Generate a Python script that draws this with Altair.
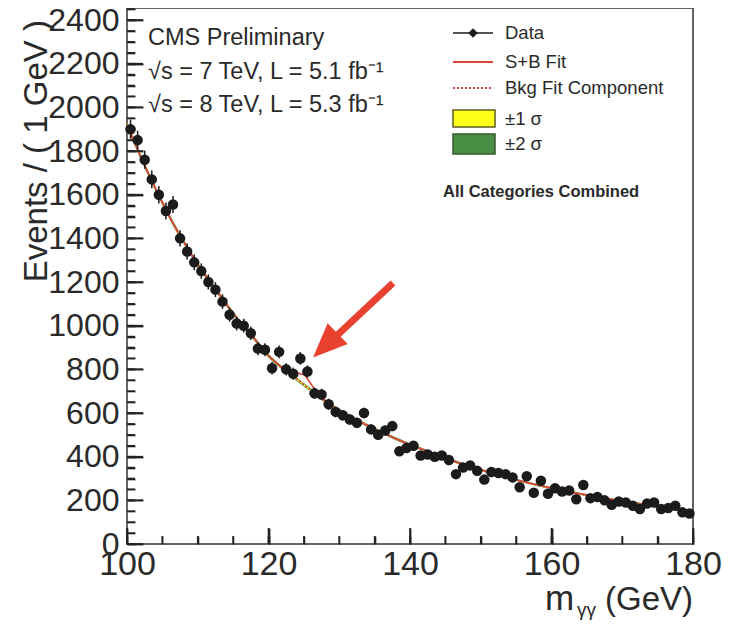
import altair as alt
import pandas as pd

# ---------------- data ----------------
mass = [100.5 + i for i in range(80)]
events = [1900, 1850, 1760, 1670, 1600, 1525, 1555, 1400, 1340, 1290,
          1250, 1200, 1165, 1110, 1050, 1010, 1000, 965, 895, 890,
          805, 880, 800, 780, 850, 790, 690, 685, 640, 605,
          590, 570, 555, 600, 525, 500, 520, 540, 425, 440,
          450, 405, 410, 400, 405, 385, 320, 350, 360, 335,
          295, 330, 325, 320, 305, 260, 310, 235, 290, 230,
          255, 240, 245, 205, 270, 210, 215, 200, 180, 195,
          190, 175, 160, 185, 190, 160, 165, 175, 145, 140]

fit_mass = list(range(100, 181, 2))
bkg_fit = [1920, 1770, 1630, 1500, 1385, 1280, 1190, 1100, 1015, 940,
           862, 805, 755, 705, 655, 612, 576, 543, 512, 482,
           455, 430, 405, 382, 360, 340, 320, 302, 286, 270,
           256, 243, 230, 218, 207, 196, 186, 176, 167, 158,
           150]
band1 = [7, 7, 6, 6, 6, 5, 5, 5, 5, 5,
         4, 4, 4, 4, 4, 4, 4, 4, 3, 3,
         3, 3, 3, 3, 3, 3, 3, 3, 3, 3,
         3, 3, 3, 3, 3, 3, 3, 3, 3, 3,
         3]
band2 = [14, 13, 12, 12, 11, 11, 10, 10, 9, 9,
         9, 8, 8, 8, 8, 7, 7, 7, 7, 7,
         6, 6, 6, 6, 6, 6, 6, 5, 5, 5,
         5, 5, 5, 5, 5, 5, 5, 5, 5, 5,
         5]

sb_mass = [100, 102, 104, 106, 108, 110, 112, 114, 116, 118,
           120, 121, 122, 123, 124, 125, 126, 127, 128, 129, 130,
           132, 134, 136, 138, 140, 142, 144, 146, 148, 150, 152, 154, 156,
           158, 160, 162, 164, 166, 168, 170, 172, 174, 176, 178, 180]
sb_fit = [1920, 1770, 1630, 1500, 1385, 1280, 1190, 1100, 1015, 940,
          862, 833, 806, 788, 783, 775, 733, 688, 656, 633, 612,
          576, 543, 512, 482, 455, 430, 405, 382, 360, 340, 320, 302, 286,
          270, 256, 243, 230, 218, 207, 196, 186, 176, 167, 158, 150]

x_major = [100, 120, 140, 160, 180]
x_minor = list(range(100, 181, 5))
y_major = list(range(0, 2401, 200))
y_minor = list(range(0, 2451, 50))

# ---------------- layout ----------------
W, H = 566, 536
XMIN, XMAX = 100, 180
YMIN, YMAX = 0, 2455
FONT = "Liberation Sans"
TXT = "#2a2a2a"
RED = "#d9453b"
YEL = "#ffff1a"
GRN = "#4b8e45"
TICK = "#222222"

data_df = pd.DataFrame({"m": mass, "n": events})
bkg_df = pd.DataFrame({"m": fit_mass, "b": bkg_fit, "s1": band1, "s2": band2})
bkg_df["lo1"] = bkg_df["b"] - bkg_df["s1"]
bkg_df["hi1"] = bkg_df["b"] + bkg_df["s1"]
bkg_df["lo2"] = bkg_df["b"] - bkg_df["s2"]
bkg_df["hi2"] = bkg_df["b"] + bkg_df["s2"]
sb_df = pd.DataFrame({"m": sb_mass, "f": sb_fit})
one = pd.DataFrame({"k": [0]})

xs = alt.Scale(domain=[XMIN, XMAX], nice=False, zero=False)
ys = alt.Scale(domain=[YMIN, YMAX], nice=False, zero=False)

# main axes carry labels and the long (major) ticks, drawn inward (negative length)
ax_x_main = alt.Axis(orient="bottom", values=x_major, ticks=True, tickSize={"expr": "-16"},
                     tickColor=TICK, tickWidth=1.8, domain=False, grid=False,
                     labelFontSize=34, labelFont=FONT, labelColor=TXT, labelPadding=19,
                     labelFlush=False, labelOverlap=False, title=None, format="d")
ax_y_main = alt.Axis(orient="left", values=y_major, ticks=True, tickSize={"expr": "-16"},
                     tickColor=TICK, tickWidth=1.8, domain=False, grid=False,
                     labelFontSize=32, labelFont=FONT, labelColor=TXT, labelPadding=24,
                     labelFlush=False, labelOverlap=False, title=None, format="d")
# second pair of axes carries only the short (minor) ticks
ax_x_min = alt.Axis(orient="bottom", values=x_minor, ticks=True, tickSize={"expr": "-8"},
                    tickColor=TICK, tickWidth=1.6, labels=False, domain=False, grid=False, title=None)
ax_y_min = alt.Axis(orient="left", values=y_minor, ticks=True, tickSize={"expr": "-8"},
                    tickColor=TICK, tickWidth=1.6, labels=False, domain=False, grid=False, title=None)

band2_layer = alt.Chart(bkg_df).mark_area(color=GRN, interpolate="monotone").encode(
    x=alt.X("m:Q", scale=xs, axis=ax_x_main),
    y=alt.Y("lo2:Q", scale=ys, axis=ax_y_main),
    y2="hi2:Q")
band1_layer = alt.Chart(bkg_df).mark_area(color=YEL, interpolate="monotone").encode(
    x=alt.X("m:Q", scale=xs, axis=ax_x_min),
    y=alt.Y("lo1:Q", scale=ys, axis=ax_y_min),
    y2="hi1:Q")
bkg_layer = alt.Chart(bkg_df).mark_line(color=RED, strokeDash=[2, 2], strokeWidth=1.5,
                                        interpolate="monotone").encode(
    x=alt.X("m:Q", scale=xs, axis=None),
    y=alt.Y("b:Q", scale=ys, axis=None))
sb_layer = alt.Chart(sb_df).mark_line(color=RED, strokeWidth=1.6, interpolate="monotone").encode(
    x=alt.X("m:Q", scale=xs, axis=None),
    y=alt.Y("f:Q", scale=ys, axis=None))
err_layer = alt.Chart(data_df).transform_calculate(
    lo="datum.n - sqrt(datum.n)", hi="datum.n + sqrt(datum.n)"
).mark_rule(color="#1b1b1b", strokeWidth=1.5).encode(
    x=alt.X("m:Q", scale=xs, axis=None),
    y=alt.Y("lo:Q", scale=ys, axis=None),
    y2="hi:Q")
pts_layer = alt.Chart(data_df).mark_circle(size=110, color="#1b1b1b", opacity=1).encode(
    x=alt.X("m:Q", scale=xs, axis=None),
    y=alt.Y("n:Q", scale=ys, axis=None))


# backup inward ticks as marks: tick value through the scale, length in pixels
def xtick_df(vals, length_px):
    return pd.DataFrame({"m": [float(v) for v in vals], "lo": [float(YMIN)] * len(vals),
                         "hi": [YMIN + length_px * (YMAX - YMIN) / H] * len(vals)})


def ytick_df(vals, length_px):
    return pd.DataFrame({"n": [float(v) for v in vals], "lo": [float(XMIN)] * len(vals),
                         "hi": [XMIN + length_px * (XMAX - XMIN) / W] * len(vals)})


xt_df = pd.concat([xtick_df(x_major, 16), xtick_df(x_minor, 8)], ignore_index=True)
yt_df = pd.concat([ytick_df(y_major, 16), ytick_df(y_minor, 8)], ignore_index=True)

xt_layer = alt.Chart(xt_df).mark_rule(color=TICK, strokeWidth=1.6).encode(
    x=alt.X("m:Q", scale=xs, axis=None),
    y=alt.Y("lo:Q", scale=ys, axis=None),
    y2="hi:Q")
yt_layer = alt.Chart(yt_df).mark_rule(color=TICK, strokeWidth=1.6).encode(
    y=alt.Y("n:Q", scale=ys, axis=None),
    x=alt.X("lo:Q", scale=xs, axis=None),
    x2="hi:Q")


def txt(s, x, y, size, align="left", baseline="middle", weight="normal", angle=0, color=TXT):
    kw = dict(text=s, fontSize=size, font=FONT, align=align, baseline=baseline,
              fontWeight=weight, color=color)
    if angle:
        kw["angle"] = angle
    return alt.Chart(one).mark_text(**kw).encode(x=alt.value(x), y=alt.value(y))


def hline(x1, x2, y, color, width, dash=None):
    kw = dict(color=color, strokeWidth=width)
    if dash:
        kw["strokeDash"] = dash
    return alt.Chart(one).mark_rule(**kw).encode(x=alt.value(x1), x2=alt.value(x2), y=alt.value(y))


def box(x1, x2, y1, y2, fill, stroke):
    return alt.Chart(one).mark_rect(color=fill, stroke=stroke, strokeWidth=1.5).encode(
        x=alt.value(x1), x2=alt.value(x2), y=alt.value(y1), y2=alt.value(y2))


annot = [
    # top-left labels
    txt("CMS Preliminary", 21, 30, 23.5),
    txt("\u221as = 7 TeV, L = 5.1 fb\u207b\u00b9", 21, 64, 23.5),
    txt("\u221as = 8 TeV, L = 5.3 fb\u207b\u00b9", 21, 97, 23.5),
    # legend
    hline(326, 366, 25, "#1b1b1b", 1.5),
    alt.Chart(one).mark_point(shape="diamond", filled=True, size=90, color="#1b1b1b", opacity=1).encode(
        x=alt.value(346), y=alt.value(25)),
    txt("Data", 378, 25, 18.5),
    hline(326, 366, 54, RED, 2),
    txt("S+B Fit", 378, 54, 18.5),
    hline(326, 366, 80, RED, 1.8, [2, 2]),
    txt("Bkg Fit Component", 378, 80, 18.5),
    box(326, 368, 102, 119, YEL, "#5d5d25"),
    txt("\u00b11 \u03c3", 378, 111, 18.5),
    box(326, 368, 126, 146, GRN, "#35592f"),
    txt("\u00b12 \u03c3", 378, 136, 18.5),
    txt("All Categories Combined", 316, 184, 16.5, weight="bold"),
    # axis titles
    txt("Events / ( 1 GeV )", -90, 12, 33, align="right", angle=270),
    txt("m", 418, 602, 35, baseline="alphabetic"),
    txt("\u03b3\u03b3", 450, 608, 19, baseline="alphabetic"),
    txt("(GeV)", 566, 602, 33, align="right", baseline="alphabetic"),
    # red arrow
    alt.Chart(one).mark_rule(color="#e8412f", strokeWidth=7).encode(
        x=alt.value(266), y=alt.value(275), x2=alt.value(204), y2=alt.value(333)),
    alt.Chart(one).mark_point(shape="M0,-1L0.8,0.9L-0.8,0.9Z", filled=True, size=1300,
                              color="#e8412f", opacity=1, angle=226).encode(
        x=alt.value(199), y=alt.value(337)),
]

chart = alt.layer(
    band2_layer, band1_layer, bkg_layer, sb_layer, err_layer, pts_layer, xt_layer, yt_layer, *annot
).resolve_axis(x="independent", y="independent").properties(
    width=W, height=H,
    padding={"left": 119, "top": 0, "right": 39, "bottom": 78},
    autosize=alt.AutoSizeParams(type="none"),
    background="white",
).configure_view(stroke="#333", strokeWidth=1.5)

chart.save("out.html", embed_options={"renderer": "svg", "actions": False})
